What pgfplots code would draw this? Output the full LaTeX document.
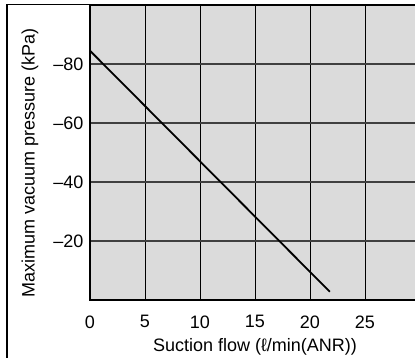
\documentclass[border=0pt]{standalone}
\usepackage{fontspec}
\setmainfont{Liberation Sans}
\usepackage{pgfplots}
\pgfplotsset{compat=1.18}
\begin{document}
\begin{tikzpicture}[x=1pt,y=1pt]
\clip (0,0) rectangle (415,358);
\fill[white] (0,0) rectangle (415,358);
\begin{axis}[
  at={(90pt,58pt)}, anchor=south west,
  scale only axis, width=330pt, height=295pt,
  xmin=0, xmax=30, ymin=-100, ymax=0,
  y dir=reverse,
  axis background/.style={fill=black!14},
  xtick={0,5,10,15,20,25},
  xticklabels={0,5,10,15,20,25},
  extra x ticks={30}, extra x tick labels={},
  ytick={-80,-60,-40,-20},
  yticklabels={--80,--60,--40,--20},
  major tick length=0pt,
  grid=major,
  x grid style={black, line width=1pt},
  y grid style={black!75, line width=1.3pt},
  axis line style={black, line width=1.2pt},
  /pgf/number format/assume math mode=true,
  tick label style={font=\fontsize{18}{21}\selectfont},
  xticklabel style={yshift=-12pt},
  yticklabel style={xshift=-3pt},
  label style={font=\fontsize{18}{21}\selectfont},
  xlabel={Suction flow (ℓ/min(ANR))},
  xlabel style={yshift=-3pt},
  ylabel={Maximum vacuum pressure (kPa)},
  ylabel style={at={(axis description cs:-0.182,0.463)}, anchor=center},
]
\addplot[black, line width=1.8pt] coordinates {(0,-84.5) (21.8,-2.8)};
\end{axis}
\draw[black, line width=1.2pt] (7,-5) -- (7,353.4) -- (420,353.4);
\end{tikzpicture}
\end{document}
